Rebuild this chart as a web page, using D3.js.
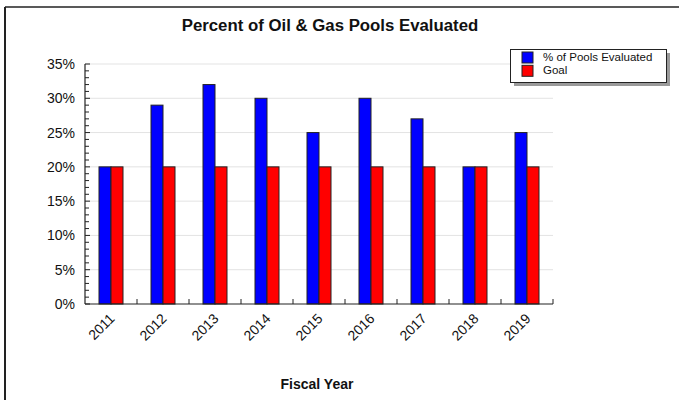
<!DOCTYPE html>
<html><head><meta charset="utf-8">
<script src="https://cdn.jsdelivr.net/npm/d3@7"></script>
<style>body{margin:0;background:#fff}svg{display:block;font-family:Arial,"Liberation Sans",sans-serif}</style>
</head><body>
<svg id="c" width="679" height="400"></svg>
<script>
const years = ["2011","2012","2013","2014","2015","2016","2017","2018","2019"];
const evaluated = [20,29,32,30,25,30,27,20,25];
const goal = [20,20,20,20,20,20,20,20,20];
const seriesNames = ["% of Pools Evaluated","Goal"];
const seriesColors = ["#0000ff","#ff0000"];
const yTicks = [0,5,10,15,20,25,30,35];

const svg = d3.select("#c");
// outer frame
svg.append("line").attr("x1",5).attr("y1",7).attr("x2",679).attr("y2",7).attr("stroke","#222").attr("stroke-width",1.5);
svg.append("line").attr("x1",5).attr("y1",7).attr("x2",5).attr("y2",400).attr("stroke","#222").attr("stroke-width",2);

const L=85,R=553,T=64,B=304;
const x = d3.scaleBand().domain(years).range([L,R]);
const y = d3.scaleLinear().domain([0,35]).range([B,T]);

// gridlines
svg.append("g").selectAll("line").data(yTicks.slice(1)).join("line")
  .attr("x1",L).attr("x2",R).attr("y1",d=>y(d)).attr("y2",d=>y(d))
  .attr("stroke","#e3e3e3").attr("stroke-width",1);

const bw = 12;
const series=[evaluated,goal];
series.forEach((vals,si)=>{
  svg.append("g").selectAll("rect").data(vals).join("rect")
    .attr("x",(d,i)=>x(years[i])+x.bandwidth()/2 - bw + si*bw)
    .attr("y",d=>y(d)).attr("width",bw).attr("height",d=>B-y(d))
    .attr("fill",seriesColors[si]).attr("stroke","#222").attr("stroke-width",1);
});

// y axis
const ya = svg.append("g").attr("transform",`translate(${L},0)`)
  .call(d3.axisLeft(y).tickValues(yTicks).tickFormat(d=>d+"%").tickSize(0).tickPadding(10));
ya.select(".domain").remove();
ya.selectAll("text").attr("font-size",14).attr("fill","#111").attr("font-family","Arial, Liberation Sans, sans-serif");
// minor ticks inward
const minor = d3.range(0,36,1);
svg.append("g").selectAll("line").data(minor).join("line")
  .attr("x1",L).attr("x2",d=>L+(d%5===0?5:4)).attr("y1",d=>y(d)).attr("y2",d=>y(d))
  .attr("stroke","#222");
svg.append("line").attr("x1",L).attr("x2",L).attr("y1",T).attr("y2",B).attr("stroke","#222").attr("stroke-width",1.2);

// x axis
svg.append("line").attr("x1",L).attr("x2",R).attr("y1",B).attr("y2",B).attr("stroke","#222").attr("stroke-width",1.2);
svg.append("g").selectAll("line").data(d3.range(1,years.length+1)).join("line")
  .attr("x1",i=>L+i*x.step()).attr("x2",i=>L+i*x.step()).attr("y1",B).attr("y2",B-5).attr("stroke","#222");
svg.append("g").selectAll("text").data(years).join("text")
  .attr("transform",d=>`translate(${x(d)+x.bandwidth()/2-3},${B+8}) rotate(-45)`)
  .attr("text-anchor","end").attr("dy","0.75em").attr("font-size",14).attr("fill","#111").text(d=>d);

// title
svg.append("text").attr("x",330).attr("y",31).attr("text-anchor","middle")
  .attr("font-size",16.8).attr("font-weight","bold").attr("fill","#111").text("Percent of Oil & Gas Pools Evaluated");
svg.append("text").attr("x",317).attr("y",389).attr("text-anchor","middle")
  .attr("font-size",14).attr("font-weight","bold").attr("fill","#111").text("Fiscal Year");

// legend
const lg = svg.append("g");
lg.append("rect").attr("x",514).attr("y",53).attr("width",156).attr("height",33).attr("fill","#9a9a9a");
lg.append("rect").attr("x",510.5).attr("y",49.5).attr("width",156).attr("height",33).attr("fill","#fff").attr("stroke","#222");
seriesNames.forEach((n,i)=>{
  lg.append("rect").attr("x",522).attr("y",52+i*13.3).attr("width",11).attr("height",11)
    .attr("fill",seriesColors[i]).attr("stroke","#222");
  lg.append("text").attr("x",543).attr("y",61+i*13.3).attr("font-size",11.5).attr("fill","#111").text(n);
});
</script>
</body></html>
